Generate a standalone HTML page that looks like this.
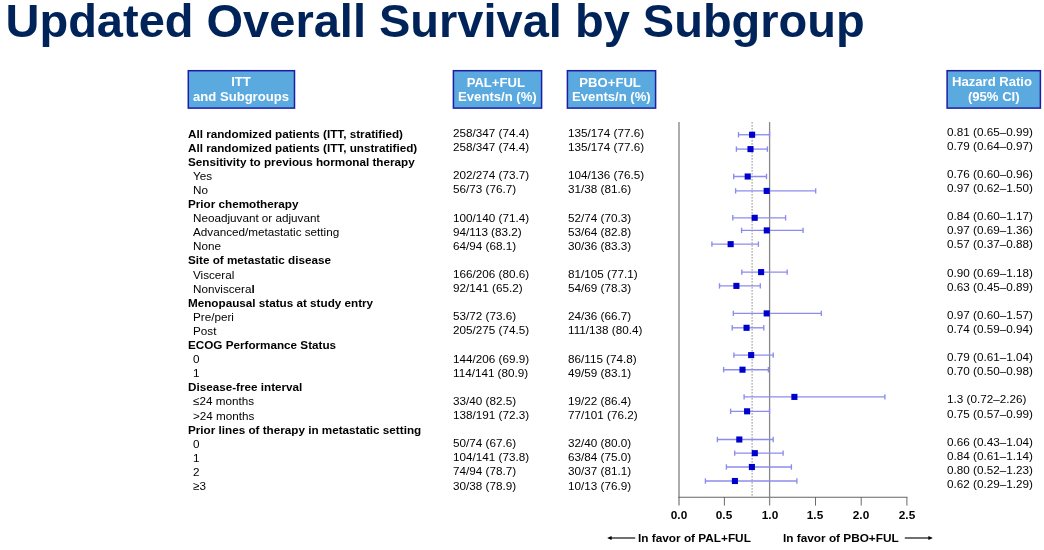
<!DOCTYPE html>
<html><head><meta charset="utf-8"><title>Updated Overall Survival by Subgroup</title>
<style>
html,body{margin:0;padding:0;background:#fff;}
body{width:1044px;height:550px;position:relative;overflow:hidden;font-family:"Liberation Sans",Arial,sans-serif;color:#000;}
.t{position:absolute;white-space:nowrap;transform:rotate(0.01deg);transform-origin:0 0;font-size:11.7px;line-height:14px;}
.b{font-weight:bold;}
h1{position:absolute;left:5.5px;top:-6px;margin:0;font-size:47px;line-height:54px;font-weight:bold;color:#00235a;white-space:nowrap;}
.hd{position:absolute;transform:rotate(0.01deg);transform-origin:0 0;box-sizing:border-box;color:#fff;font-weight:bold;font-size:13.1px;line-height:14px;text-align:center;top:70px;height:39px;padding-top:5px;white-space:nowrap;}
.hd span{position:relative}
.ax{position:absolute;transform:rotate(0.01deg);transform-origin:0 0;font-weight:bold;font-size:11.8px;line-height:14px;white-space:nowrap;}
svg{position:absolute;left:0;top:0;}
</style></head><body>
<h1>Updated Overall Survival by Subgroup</h1>
<svg width="1044" height="550" viewBox="0 0 1044 550">
<g fill="#5aaae0" stroke="#1c1ca4" stroke-width="1.5">
<rect x="188.3" y="70.7" width="106.2" height="37.4"/>
<rect x="453.4" y="70.7" width="88.2" height="37.4"/>
<rect x="567.4" y="70.7" width="88.2" height="37.4"/>
<rect x="947.1" y="70.7" width="93.3" height="37.4"/>
</g></svg>
<div class="hd" style="left:188px;width:107px;"><span style="left:-0.5px;top:0.3px">ITT</span><br><span style="left:-0.5px;top:0.6px">and Subgroups</span></div>
<div class="hd" style="left:452.2px;width:90px;"><span style="left:-1.2px;top:0.5px">PAL+FUL</span><br><span style="left:0.4px;top:1.1px">Events/n (%)</span></div>
<div class="hd" style="left:566.2px;width:90px;"><span style="left:-0.9px;top:0.5px">PBO+FUL</span><br><span style="left:0.4px;top:1.1px">Events/n (%)</span></div>
<div class="hd" style="left:946.4px;width:95px;"><span style="left:-1.5px;top:0.3px">Hazard Ratio</span><br><span style="left:0.3px;top:0.6px">(95% CI)</span></div>

<div class="t b" style="left:188.0px;top:126.50px">All randomized patients (ITT, stratified)</div>
<div class="t" style="left:453.0px;top:126.00px">258/347 (74.4)</div>
<div class="t" style="left:567.7px;top:126.00px">135/174 (77.6)</div>
<div class="t" style="left:946.7px;top:124.75px">0.81 (0.65–0.99)</div>
<div class="t b" style="left:188.0px;top:140.60px">All randomized patients (ITT, unstratified)</div>
<div class="t" style="left:453.0px;top:140.10px">258/347 (74.4)</div>
<div class="t" style="left:567.7px;top:140.10px">135/174 (77.6)</div>
<div class="t" style="left:946.7px;top:138.84px">0.79 (0.64–0.97)</div>
<div class="t b" style="left:188.0px;top:154.70px">Sensitivity to previous hormonal therapy</div>
<div class="t" style="left:192.9px;top:168.80px">Yes</div>
<div class="t" style="left:453.0px;top:168.30px">202/274 (73.7)</div>
<div class="t" style="left:567.7px;top:168.30px">104/136 (76.5)</div>
<div class="t" style="left:946.7px;top:167.02px">0.76 (0.60–0.96)</div>
<div class="t" style="left:192.9px;top:182.90px">No</div>
<div class="t" style="left:453.0px;top:182.40px">56/73 (76.7)</div>
<div class="t" style="left:567.7px;top:182.40px">31/38 (81.6)</div>
<div class="t" style="left:946.7px;top:181.11px">0.97 (0.62–1.50)</div>
<div class="t b" style="left:188.0px;top:197.00px">Prior chemotherapy</div>
<div class="t" style="left:192.9px;top:211.10px">Neoadjuvant or adjuvant</div>
<div class="t" style="left:453.0px;top:210.60px">100/140 (71.4)</div>
<div class="t" style="left:567.7px;top:210.60px">52/74 (70.3)</div>
<div class="t" style="left:946.7px;top:209.29px">0.84 (0.60–1.17)</div>
<div class="t" style="left:192.9px;top:225.20px">Advanced/metastatic setting</div>
<div class="t" style="left:453.0px;top:224.70px">94/113 (83.2)</div>
<div class="t" style="left:567.7px;top:224.70px">53/64 (82.8)</div>
<div class="t" style="left:946.7px;top:223.38px">0.97 (0.69–1.36)</div>
<div class="t" style="left:192.9px;top:239.30px">None</div>
<div class="t" style="left:453.0px;top:238.80px">64/94 (68.1)</div>
<div class="t" style="left:567.7px;top:238.80px">30/36 (83.3)</div>
<div class="t" style="left:946.7px;top:237.47px">0.57 (0.37–0.88)</div>
<div class="t b" style="left:188.0px;top:253.40px">Site of metastatic disease</div>
<div class="t" style="left:192.9px;top:267.50px">Visceral</div>
<div class="t" style="left:453.0px;top:267.00px">166/206 (80.6)</div>
<div class="t" style="left:567.7px;top:267.00px">81/105 (77.1)</div>
<div class="t" style="left:946.7px;top:265.65px">0.90 (0.69–1.18)</div>
<div class="t" style="left:192.9px;top:281.60px">Nonviscera<b>l</b></div>
<div class="t" style="left:453.0px;top:281.10px">92/141 (65.2)</div>
<div class="t" style="left:567.7px;top:281.10px">54/69 (78.3)</div>
<div class="t" style="left:946.7px;top:279.74px">0.63 (0.45–0.89)</div>
<div class="t b" style="left:188.0px;top:295.70px">Menopausal status at study entry</div>
<div class="t" style="left:192.9px;top:309.80px">Pre/peri</div>
<div class="t" style="left:453.0px;top:309.30px">53/72 (73.6)</div>
<div class="t" style="left:567.7px;top:309.30px">24/36 (66.7)</div>
<div class="t" style="left:946.7px;top:307.92px">0.97 (0.60–1.57)</div>
<div class="t" style="left:192.9px;top:323.90px">Post</div>
<div class="t" style="left:453.0px;top:323.40px">205/275 (74.5)</div>
<div class="t" style="left:567.7px;top:323.40px">111/138 (80.4)</div>
<div class="t" style="left:946.7px;top:322.01px">0.74 (0.59–0.94)</div>
<div class="t b" style="left:188.0px;top:338.00px">ECOG Performance Status</div>
<div class="t" style="left:192.9px;top:352.10px">0</div>
<div class="t" style="left:453.0px;top:351.60px">144/206 (69.9)</div>
<div class="t" style="left:567.7px;top:351.60px">86/115 (74.8)</div>
<div class="t" style="left:946.7px;top:350.19px">0.79 (0.61–1.04)</div>
<div class="t" style="left:192.9px;top:366.20px">1</div>
<div class="t" style="left:453.0px;top:365.70px">114/141 (80.9)</div>
<div class="t" style="left:567.7px;top:365.70px">49/59 (83.1)</div>
<div class="t" style="left:946.7px;top:364.28px">0.70 (0.50–0.98)</div>
<div class="t b" style="left:188.0px;top:380.30px">Disease-free interval</div>
<div class="t" style="left:192.9px;top:394.40px">≤24 months</div>
<div class="t" style="left:453.0px;top:393.90px">33/40 (82.5)</div>
<div class="t" style="left:567.7px;top:393.90px">19/22 (86.4)</div>
<div class="t" style="left:946.7px;top:392.46px">1.3 (0.72–2.26)</div>
<div class="t" style="left:192.9px;top:408.50px">>24 months</div>
<div class="t" style="left:453.0px;top:408.00px">138/191 (72.3)</div>
<div class="t" style="left:567.7px;top:408.00px">77/101 (76.2)</div>
<div class="t" style="left:946.7px;top:406.55px">0.75 (0.57–0.99)</div>
<div class="t b" style="left:188.0px;top:422.60px">Prior lines of therapy in metastatic setting</div>
<div class="t" style="left:192.9px;top:436.70px">0</div>
<div class="t" style="left:453.0px;top:436.20px">50/74 (67.6)</div>
<div class="t" style="left:567.7px;top:436.20px">32/40 (80.0)</div>
<div class="t" style="left:946.7px;top:434.73px">0.66 (0.43–1.04)</div>
<div class="t" style="left:192.9px;top:450.80px">1</div>
<div class="t" style="left:453.0px;top:450.30px">104/141 (73.8)</div>
<div class="t" style="left:567.7px;top:450.30px">63/84 (75.0)</div>
<div class="t" style="left:946.7px;top:448.82px">0.84 (0.61–1.14)</div>
<div class="t" style="left:192.9px;top:464.90px">2</div>
<div class="t" style="left:453.0px;top:464.40px">74/94 (78.7)</div>
<div class="t" style="left:567.7px;top:464.40px">30/37 (81.1)</div>
<div class="t" style="left:946.7px;top:462.91px">0.80 (0.52–1.23)</div>
<div class="t" style="left:192.9px;top:479.00px">≥3</div>
<div class="t" style="left:453.0px;top:478.50px">30/38 (78.9)</div>
<div class="t" style="left:567.7px;top:478.50px">10/13 (76.9)</div>
<div class="t" style="left:946.7px;top:477.00px">0.62 (0.29–1.29)</div>
<svg width="1044" height="550" viewBox="0 0 1044 550">
<line x1="679.0" y1="122" x2="679.0" y2="505.6" stroke="#8a8a8a" stroke-width="1.4"/>
<line x1="678.3" y1="497.25" x2="907.4" y2="497.25" stroke="#666" stroke-width="1"/>
<line x1="769.6" y1="122" x2="769.6" y2="505.6" stroke="#888888" stroke-width="1.3"/>
<line x1="724.4" y1="497" x2="724.4" y2="505.6" stroke="#6a6a6a" stroke-width="1"/>
<line x1="815.5" y1="497" x2="815.5" y2="505.6" stroke="#6a6a6a" stroke-width="1"/>
<line x1="861.2" y1="497" x2="861.2" y2="505.6" stroke="#6a6a6a" stroke-width="1"/>
<line x1="906.9" y1="497" x2="906.9" y2="505.6" stroke="#6a6a6a" stroke-width="1"/>
<line x1="752.1" y1="122.3" x2="752.1" y2="496.5" stroke="#7c7c7c" stroke-width="1.1" stroke-dasharray="1.2 1.8"/>
<g stroke="#8c8cee" stroke-width="1.35"><line x1="738.5" y1="134.75" x2="769.5" y2="134.75"/><line x1="738.5" y1="132.05" x2="738.5" y2="137.45"/><line x1="769.5" y1="132.05" x2="769.5" y2="137.45"/></g>
<rect x="749.05" y="131.70" width="6.1" height="6.1" fill="#0000cd"/>
<g stroke="#8c8cee" stroke-width="1.35"><line x1="736.4" y1="149.10" x2="767.4" y2="149.10"/><line x1="736.4" y1="146.40" x2="736.4" y2="151.80"/><line x1="767.4" y1="146.40" x2="767.4" y2="151.80"/></g>
<rect x="747.45" y="146.05" width="6.1" height="6.1" fill="#0000cd"/>
<g stroke="#8c8cee" stroke-width="1.35"><line x1="733.7" y1="176.50" x2="766.5" y2="176.50"/><line x1="733.7" y1="173.80" x2="733.7" y2="179.20"/><line x1="766.5" y1="173.80" x2="766.5" y2="179.20"/></g>
<rect x="744.65" y="173.45" width="6.1" height="6.1" fill="#0000cd"/>
<g stroke="#8c8cee" stroke-width="1.35"><line x1="735.6" y1="190.90" x2="815.7" y2="190.90"/><line x1="735.6" y1="188.20" x2="735.6" y2="193.60"/><line x1="815.7" y1="188.20" x2="815.7" y2="193.60"/></g>
<rect x="763.65" y="187.85" width="6.1" height="6.1" fill="#0000cd"/>
<g stroke="#8c8cee" stroke-width="1.35"><line x1="732.8" y1="217.80" x2="785.6" y2="217.80"/><line x1="732.8" y1="215.10" x2="732.8" y2="220.50"/><line x1="785.6" y1="215.10" x2="785.6" y2="220.50"/></g>
<rect x="751.65" y="214.75" width="6.1" height="6.1" fill="#0000cd"/>
<g stroke="#8c8cee" stroke-width="1.35"><line x1="741.6" y1="230.40" x2="803.1" y2="230.40"/><line x1="741.6" y1="227.70" x2="741.6" y2="233.10"/><line x1="803.1" y1="227.70" x2="803.1" y2="233.10"/></g>
<rect x="763.75" y="227.35" width="6.1" height="6.1" fill="#0000cd"/>
<g stroke="#8c8cee" stroke-width="1.35"><line x1="711.9" y1="244.15" x2="758.4" y2="244.15"/><line x1="711.9" y1="241.45" x2="711.9" y2="246.85"/><line x1="758.4" y1="241.45" x2="758.4" y2="246.85"/></g>
<rect x="727.60" y="241.10" width="6.1" height="6.1" fill="#0000cd"/>
<g stroke="#8c8cee" stroke-width="1.35"><line x1="741.8" y1="272.10" x2="787.2" y2="272.10"/><line x1="741.8" y1="269.40" x2="741.8" y2="274.80"/><line x1="787.2" y1="269.40" x2="787.2" y2="274.80"/></g>
<rect x="758.05" y="269.05" width="6.1" height="6.1" fill="#0000cd"/>
<g stroke="#8c8cee" stroke-width="1.35"><line x1="719.5" y1="285.90" x2="760.3" y2="285.90"/><line x1="719.5" y1="283.20" x2="719.5" y2="288.60"/><line x1="760.3" y1="283.20" x2="760.3" y2="288.60"/></g>
<rect x="733.35" y="282.85" width="6.1" height="6.1" fill="#0000cd"/>
<g stroke="#8c8cee" stroke-width="1.35"><line x1="733.3" y1="313.40" x2="821.3" y2="313.40"/><line x1="733.3" y1="310.70" x2="733.3" y2="316.10"/><line x1="821.3" y1="310.70" x2="821.3" y2="316.10"/></g>
<rect x="763.65" y="310.35" width="6.1" height="6.1" fill="#0000cd"/>
<g stroke="#8c8cee" stroke-width="1.35"><line x1="732.2" y1="327.80" x2="763.8" y2="327.80"/><line x1="732.2" y1="325.10" x2="732.2" y2="330.50"/><line x1="763.8" y1="325.10" x2="763.8" y2="330.50"/></g>
<rect x="743.50" y="324.75" width="6.1" height="6.1" fill="#0000cd"/>
<g stroke="#8c8cee" stroke-width="1.35"><line x1="733.9" y1="355.10" x2="773.2" y2="355.10"/><line x1="733.9" y1="352.40" x2="733.9" y2="357.80"/><line x1="773.2" y1="352.40" x2="773.2" y2="357.80"/></g>
<rect x="748.10" y="352.05" width="6.1" height="6.1" fill="#0000cd"/>
<g stroke="#8c8cee" stroke-width="1.35"><line x1="723.6" y1="369.70" x2="768.4" y2="369.70"/><line x1="723.6" y1="367.00" x2="723.6" y2="372.40"/><line x1="768.4" y1="367.00" x2="768.4" y2="372.40"/></g>
<rect x="739.45" y="366.65" width="6.1" height="6.1" fill="#0000cd"/>
<g stroke="#8c8cee" stroke-width="1.35"><line x1="744.1" y1="396.90" x2="884.9" y2="396.90"/><line x1="744.1" y1="394.20" x2="744.1" y2="399.60"/><line x1="884.9" y1="394.20" x2="884.9" y2="399.60"/></g>
<rect x="791.35" y="393.85" width="6.1" height="6.1" fill="#0000cd"/>
<g stroke="#8c8cee" stroke-width="1.35"><line x1="730.6" y1="411.30" x2="769.5" y2="411.30"/><line x1="730.6" y1="408.60" x2="730.6" y2="414.00"/><line x1="769.5" y1="408.60" x2="769.5" y2="414.00"/></g>
<rect x="744.05" y="408.25" width="6.1" height="6.1" fill="#0000cd"/>
<g stroke="#8c8cee" stroke-width="1.35"><line x1="717.4" y1="439.50" x2="773.2" y2="439.50"/><line x1="717.4" y1="436.80" x2="717.4" y2="442.20"/><line x1="773.2" y1="436.80" x2="773.2" y2="442.20"/></g>
<rect x="736.25" y="436.45" width="6.1" height="6.1" fill="#0000cd"/>
<g stroke="#8c8cee" stroke-width="1.35"><line x1="734.7" y1="453.15" x2="783.1" y2="453.15"/><line x1="734.7" y1="450.45" x2="734.7" y2="455.85"/><line x1="783.1" y1="450.45" x2="783.1" y2="455.85"/></g>
<rect x="751.75" y="450.10" width="6.1" height="6.1" fill="#0000cd"/>
<g stroke="#8c8cee" stroke-width="1.35"><line x1="726.4" y1="467.00" x2="791.4" y2="467.00"/><line x1="726.4" y1="464.30" x2="726.4" y2="469.70"/><line x1="791.4" y1="464.30" x2="791.4" y2="469.70"/></g>
<rect x="748.85" y="463.95" width="6.1" height="6.1" fill="#0000cd"/>
<g stroke="#8c8cee" stroke-width="1.35"><line x1="705.4" y1="481.00" x2="796.9" y2="481.00"/><line x1="705.4" y1="478.30" x2="705.4" y2="483.70"/><line x1="796.9" y1="478.30" x2="796.9" y2="483.70"/></g>
<rect x="731.85" y="477.95" width="6.1" height="6.1" fill="#0000cd"/>
</svg>
<div class="ax" style="left:659.0px;top:508px;width:40px;text-align:center">0.0</div>
<div class="ax" style="left:704.4px;top:508px;width:40px;text-align:center">0.5</div>
<div class="ax" style="left:749.6px;top:508px;width:40px;text-align:center">1.0</div>
<div class="ax" style="left:795.2px;top:508px;width:40px;text-align:center">1.5</div>
<div class="ax" style="left:841.4px;top:508px;width:40px;text-align:center">2.0</div>
<div class="ax" style="left:887.3px;top:508px;width:40px;text-align:center">2.5</div>
<div class="ax" style="left:638px;top:531px">In favor of PAL+FUL</div>
<div class="ax" style="left:783px;top:531px">In favor of PBO+FUL</div>
<svg width="1044" height="550" viewBox="0 0 1044 550">
<g stroke="#222" stroke-width="1.3" fill="#000">
<line x1="610" y1="538" x2="635.2" y2="538"/><polygon stroke="none" points="607.2,538 611.6,536.1 611.6,539.9"/>
<line x1="904.8" y1="538" x2="930" y2="538"/><polygon stroke="none" points="932.8,538 928.4,536.1 928.4,539.9"/>
</g></svg>
</body></html>
